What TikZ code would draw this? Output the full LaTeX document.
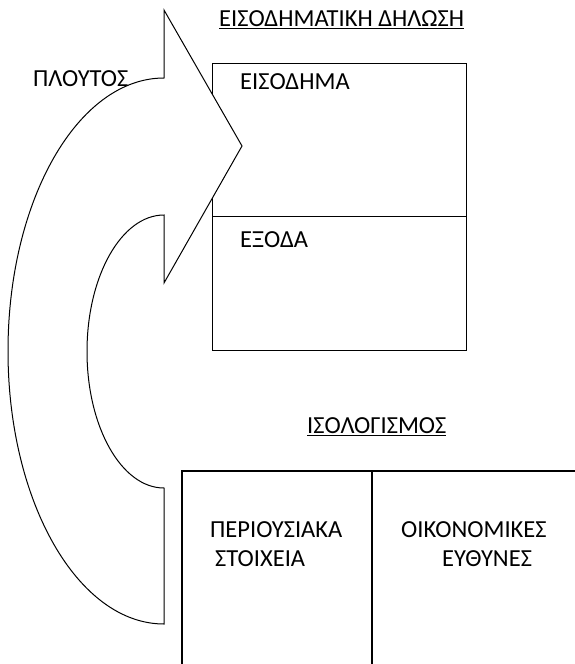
\documentclass[tikz,border=0pt]{standalone}
\usepackage{fontspec}
\setmainfont{Carlito}
\begin{document}
\begin{tikzpicture}[x=1pt,y=1pt,
  lbl/.style={inner sep=0pt,font=\fontsize{24.5}{29}\selectfont},
  boxline/.style={draw=black,line width=1.1pt},
  arrowshape/.style={draw=black,fill=white,line width=1pt,line join=miter}]
\useasboundingbox (0,0) rectangle (575,-664);
% upper box (income statement)
\node[boxline,minimum width=254pt,minimum height=153pt,inner sep=0pt,anchor=north west] (inc) at (212,-63) {};
\node[boxline,minimum width=254pt,minimum height=134pt,inner sep=0pt,anchor=north west] (exp) at (212,-216) {};
% lower box (balance sheet), open at bottom and right
\coordinate (bl) at (182,-664);
\coordinate (tl) at (182,-471);
\coordinate (tr) at (575,-471);
\coordinate (dt) at (372,-471);
\coordinate (db) at (372,-664);
\draw[boxline] (bl) -- (tl) -- (tr);
\draw[boxline] (dt) -- (db);
% texts
\node[lbl,anchor=west] (title1) at (219,-20) {\underline{ΕΙΣΟΔΗΜΑΤΙΚΗ ΔΗΛΩΣΗ}};
\node[lbl,anchor=west] (t_inc) at (240,-82) {ΕΙΣΟΔΗΜΑ};
\node[lbl,anchor=west] (t_exp) at (240,-240) {ΕΞΟΔΑ};
\node[lbl,anchor=west] (title2) at (307,-427) {\underline{ΙΣΟΛΟΓΙΣΜΟΣ}};
\node[lbl,anchor=west] (t_a1) at (210,-530) {ΠΕΡΙΟΥΣΙΑΚΑ};
\node[lbl,anchor=west] (t_a2) at (215,-559) {ΣΤΟΙΧΕΙΑ};
\node[lbl,anchor=west] (t_l1) at (401,-530) {ΟΙΚΟΝΟΜΙΚΕΣ};
\node[lbl,anchor=west] (t_l2) at (442,-559) {ΕΥΘΥΝΕΣ};
\node[lbl,anchor=west] (wealth) at (33,-79) {ΠΛΟΥΤΟΣ};
% curved arrow
\draw[arrowshape] (164,-488) -- (164,-624)
  arc[start angle=270,end angle=90,x radius=156,y radius=273]
  -- (164,-10) -- (242,-146) -- (164,-283) -- (164,-215)
  arc[start angle=90,end angle=270,x radius=77,y radius=136.5]
  -- cycle;
\end{tikzpicture}
\end{document}
